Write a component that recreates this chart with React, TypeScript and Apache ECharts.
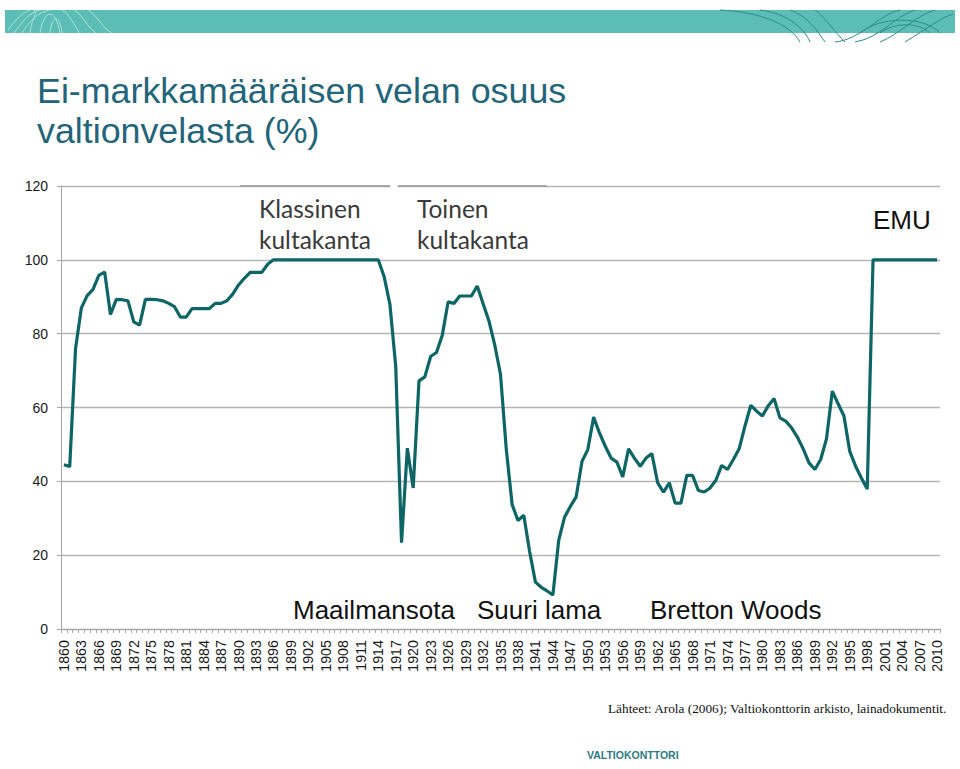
import React, { useEffect, useRef } from "react";
import * as echarts from "echarts";

const years: string[] = [];
for (let y = 1860; y <= 2010; y++) years.push(String(y));

// Share of non-markka debt in central government debt (%), 1860–2010
const shareValues: number[] = [
  44.5, 44, 76, 87, 90.3, 92, 95.8, 96.7, 85.2, 89.3, // 1860-1869
  89.2, 88.9, 83.2, 82.3, 89.3, 89.3, 89.2, 88.9, 88.2, 87.3, // 1870-1879
  84.5, 84.5, 86.8, 86.8, 86.8, 86.8, 88.2, 88.2, 88.9, 90.7, // 1880-1889
  93.2, 95, 96.6, 96.6, 96.6, 98.8, 100, 100, 100, 100, // 1890-1899
  100, 100, 100, 100, 100, 100, 100, 100, 100, 100, // 1900-1909
  100, 100, 100, 100, 100, 95.5, 88, 71.2, 23.4, 49, // 1910-1919
  38.2, 67.2, 68.3, 73.8, 74.9, 79.6, 88.6, 88.2, 90.2, 90.2, // 1920-1929
  90.2, 92.9, 88.2, 83.5, 77, 69, 48.6, 33.7, 29.4, 30.8, // 1930-1939
  21, 12.7, 11.3, 10.3, 9.2, 24, 30.3, 33.2, 35.8, 45.4, // 1940-1949
  48.6, 57.4, 53.1, 49.5, 46.3, 45.2, 41.2, 48.8, 46.3, 44.1, // 1950-1959
  46.3, 47.5, 39.6, 37.1, 39.6, 34.1, 34.1, 41.6, 41.6, 37.5, // 1960-1969
  37.1, 38.2, 40.3, 44.3, 43.2, 45.9, 48.8, 55, 60.6, 59, // 1970-1979
  57.7, 60.5, 62.4, 57.2, 56.3, 54.5, 52, 48.8, 45, 43.2, // 1980-1989
  45.9, 51.5, 64.4, 61, 57.7, 48.1, 44.1, 40.9, 37.9, 100, // 1990-1999
  100, 100, 100, 100, 100, 100, 100, 100, 100, 100, // 2000-2009
  100, // 2010
];

const yTicks = { min: 0, max: 120, interval: 20 };

const titleLines = ["Ei-markkamääräisen velan osuus", "valtionvelasta (%)"];
const periodLabels = ["Klassinen\nkultakanta", "Toinen\nkultakanta"];
const eventLabels = ["Maailmansota", "Suuri lama", "Bretton Woods", "EMU"];
const sourceText = "Lähteet: Arola (2006); Valtiokonttorin arkisto, lainadokumentit.";
const logoText = "VALTIOKONTTORI";

export default function App() {
  const ref = useRef<HTMLDivElement>(null);
  useEffect(() => {
    if (!ref.current) return;
    const chart = echarts.init(ref.current, undefined, { renderer: "svg" });
    const sans = "Liberation Sans, Arial, sans-serif";
    const curve = (x1: number, y1: number, cpx1: number, cpy1: number, cpx2: number, cpy2: number, x2: number, y2: number, stroke: string) => ({
      type: "bezierCurve",
      shape: { x1, y1, cpx1, cpy1, cpx2, cpy2, x2, y2 },
      style: { stroke, lineWidth: 1, fill: "none" },
      z: 2,
    });
    const light = "#a9e2dc";
    const dark = "#2e8e88";
    const option: any = {
      animation: false,
      backgroundColor: "#ffffff",
      grid: { left: 61, right: 20, top: 186, bottom: 140, containLabel: false },
      xAxis: {
        type: "category",
        data: years,
        boundaryGap: true,
        axisLine: { show: true, lineStyle: { color: "#a6a6a6", width: 1 } },
        axisTick: { show: true, interval: 0, length: 4, lineStyle: { color: "#a6a6a6" } },
        axisLabel: {
          interval: 2,
          rotate: 90,
          margin: 11,
          fontSize: 14.3,
          fontFamily: sans,
          color: "#1a1a1a",
        },
        splitLine: { show: false },
      },
      yAxis: {
        type: "value",
        min: yTicks.min,
        max: yTicks.max,
        interval: yTicks.interval,
        axisLine: { show: true, lineStyle: { color: "#a6a6a6", width: 1 } },
        axisTick: { show: true, length: 4, lineStyle: { color: "#a6a6a6" } },
        axisLabel: { margin: 13, fontSize: 14, fontFamily: sans, color: "#1a1a1a" },
        splitLine: { show: true, lineStyle: { color: "#b5b5b5", width: 1.3 } },
      },
      series: [
        {
          type: "line",
          data: shareValues,
          showSymbol: false,
          symbol: "none",
          lineStyle: { color: "#0e6566", width: 3.2 },
          z: 5,
        },
      ],
      graphic: [
        // banner
        { type: "rect", shape: { x: 5, y: 10, width: 950, height: 23 }, style: { fill: "#5bbdb6" }, z: 1 },
        curve(8, 30, 14, 22, 20, 14, 30, 10, light),
        curve(14, 33, 22, 22, 30, 12, 40, 10, light),
        curve(22, 33, 30, 20, 40, 11, 50, 10, light),
        curve(30, 33, 32, 16, 38, 16, 34, 10, light),
        curve(40, 33, 44, 8, 56, 8, 60, 33, light),
        curve(50, 33, 52, 14, 60, 14, 62, 33, light),
        curve(62, 10, 70, 14, 74, 26, 80, 33, light),
        curve(74, 10, 82, 14, 88, 28, 96, 33, light),
        curve(88, 10, 96, 14, 104, 30, 112, 33, light),
        curve(720, 10, 760, 12, 790, 24, 800, 42, dark),
        curve(760, 10, 790, 14, 805, 30, 810, 42, dark),
        curve(790, 10, 808, 16, 818, 32, 825, 42, dark),
        curve(815, 10, 826, 18, 836, 34, 845, 42, dark),
        curve(835, 42, 860, 40, 880, 14, 900, 10, dark),
        curve(855, 42, 880, 38, 895, 16, 915, 10, dark),
        curve(880, 42, 900, 34, 915, 16, 935, 10, dark),
        curve(905, 42, 925, 30, 940, 18, 953, 14, dark),
        curve(860, 33, 880, 16, 925, 16, 940, 33, dark),
        curve(880, 33, 895, 22, 918, 22, 930, 33, dark),
        // title
        {
          type: "text",
          left: 37,
          top: 71,
          style: {
            text: titleLines.join("\n"),
            fontSize: 35.8,
            lineHeight: 40,
            fontFamily: sans,
            fill: "#22657a",
          },
          z: 10,
        },
        // period boxes top borders
        { type: "line", shape: { x1: 240, y1: 186, x2: 390, y2: 186 }, style: { stroke: "#999999", lineWidth: 1.5 }, z: 9 },
        { type: "line", shape: { x1: 398, y1: 186, x2: 547, y2: 186 }, style: { stroke: "#999999", lineWidth: 1.5 }, z: 9 },
        { type: "rect", shape: { x: 390.5, y: 184, width: 7, height: 4 }, style: { fill: "#ffffff" }, z: 9 },
        {
          type: "text",
          left: 259,
          top: 193,
          style: { text: periodLabels[0], fontSize: 24.5, lineHeight: 31, fontFamily: "Lato, sans-serif", fill: "#3a3a3a" },
          z: 10,
        },
        {
          type: "text",
          left: 417,
          top: 193,
          style: { text: periodLabels[1], fontSize: 24.5, lineHeight: 31, fontFamily: "Lato, sans-serif", fill: "#3a3a3a" },
          z: 10,
        },
        // event labels
        { type: "text", left: 293, top: 597, style: { text: eventLabels[0], fontSize: 26, fontFamily: sans, fill: "#111111" }, z: 10 },
        { type: "text", left: 477, top: 597, style: { text: eventLabels[1], fontSize: 26, fontFamily: sans, fill: "#111111" }, z: 10 },
        { type: "text", left: 650, top: 597, style: { text: eventLabels[2], fontSize: 26, fontFamily: sans, fill: "#111111" }, z: 10 },
        { type: "text", left: 873, top: 207, style: { text: eventLabels[3], fontSize: 26, fontFamily: sans, fill: "#111111" }, z: 10 },
        // source
        { type: "text", left: 608, top: 702, style: { text: sourceText, fontSize: 13.3, fontFamily: "Liberation Serif, Times New Roman, serif", fill: "#111111" }, z: 10 },
        // logo
        { type: "text", left: 587, top: 749, style: { text: logoText, fontSize: 10.5, fontWeight: "bold", fontFamily: sans, fill: "#2c7b82" }, z: 10 },
      ],
    };
    chart.setOption(option);
    return () => chart.dispose();
  }, []);
  return (
    <div
      ref={ref}
      style={{ position: "absolute", left: 0, top: 0, width: 960, height: 769, background: "#fff" }}
    />
  );
}
